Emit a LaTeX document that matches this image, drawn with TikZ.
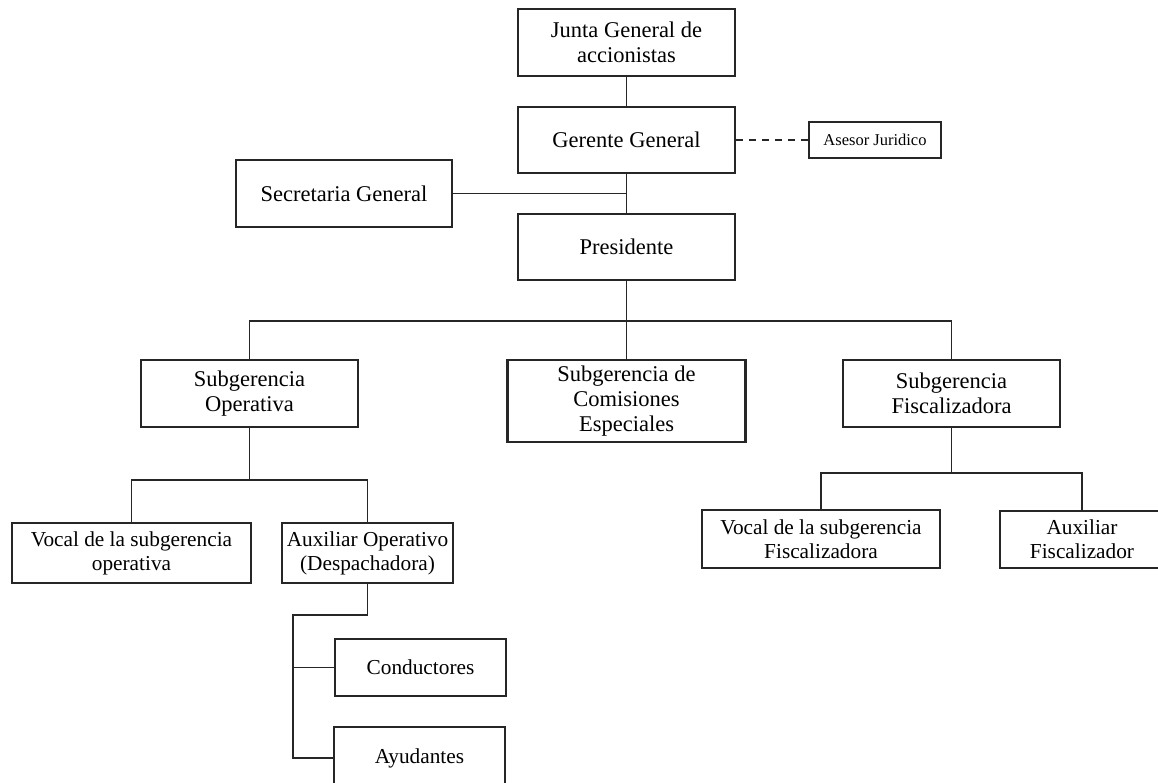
\documentclass[tikz,border=0pt]{standalone}
\usepackage{fontspec}
\setmainfont{Liberation Serif}
\begin{document}
\begin{tikzpicture}[x=1pt,y=-1pt,
  box/.style={draw=black!85,line width=2.2pt,inner sep=0pt,align=center,font=\fontsize{22.5}{25}\selectfont},
  sbox/.style={box,font=\fontsize{21.3}{24}\selectfont},
  conn/.style={draw=black!85,line width=1.8pt}]
\useasboundingbox (0,0) rectangle (1158,783);
\node[box,minimum width=217pt,minimum height=67pt] (junta) at (626.5,42.5) {Junta General de\\accionistas};
\node[box,minimum width=217pt,minimum height=66pt] (gerente) at (626.5,140) {Gerente General};
\node[box,minimum width=132pt,minimum height=36pt,font=\fontsize{16.5}{18}\selectfont] (asesor) at (875,140) {Asesor Juridico};
\node[box,minimum width=216pt,minimum height=67pt] (secret) at (344,193.5) {Secretaria General};
\node[box,minimum width=217pt,minimum height=66pt] (presi) at (626.5,247) {Presidente};
\node[box,minimum width=217pt,minimum height=67pt] (subop) at (249.5,393.5) {Subgerencia\\Operativa};
\node[box,minimum width=238pt,minimum height=82pt] (comis) at (626.5,401) {Subgerencia de\\Comisiones\\Especiales};
\node[box,minimum width=217pt,minimum height=67pt] (subfis) at (951.5,393.5) {Subgerencia\\Fiscalizadora};
\node[sbox,minimum width=239pt,minimum height=60pt] (vocalop) at (131.5,553) {Vocal de la subgerencia\\operativa};
\node[sbox,minimum width=171pt,minimum height=60pt] (auxop) at (367.5,553) {Auxiliar Operativo\\(Despachadora)};
\node[sbox,minimum width=238pt,minimum height=58pt] (vocalfis) at (821,539) {Vocal de la subgerencia\\Fiscalizadora};
\node[sbox,minimum width=164pt,minimum height=57pt] (auxfis) at (1082,539.5) {Auxiliar\\Fiscalizador};
\node[sbox,minimum width=171pt,minimum height=57pt] (cond) at (420.5,667.5) {Conductores};
\node[sbox,minimum width=171pt,minimum height=62pt] (ayud) at (419.5,758) {Ayudantes};
\coordinate (bus) at (626.5,321);
\coordinate (opbus) at (249.5,480);
\coordinate (fisbus) at (951.5,473);
\coordinate (spine) at (293,615);
\draw[conn] (junta.south) -- (gerente.north);
\draw[conn,dashed,dash pattern=on 7pt off 6pt] (gerente.east) -- (asesor.west);
\draw[conn] (gerente.south) -- (presi.north);
\draw[conn] (secret.east) -- (secret.east -| gerente.south);
\draw[conn] (presi.south) -- (comis.north);
\draw[conn] (subop.north) |- (bus) -| (subfis.north);
\draw[conn] (subop.south) -- (opbus);
\draw[conn] (vocalop.north) |- (opbus) -| (auxop.north);
\draw[conn] (subfis.south) -- (fisbus);
\draw[conn] (vocalfis.north) |- (fisbus) -| (auxfis.north);
\draw[conn] (auxop.south) |- (spine) -- (spine |- ayud.west) -- (ayud.west);
\draw[conn] (spine |- cond.west) -- (cond.west);
\end{tikzpicture}
\end{document}
